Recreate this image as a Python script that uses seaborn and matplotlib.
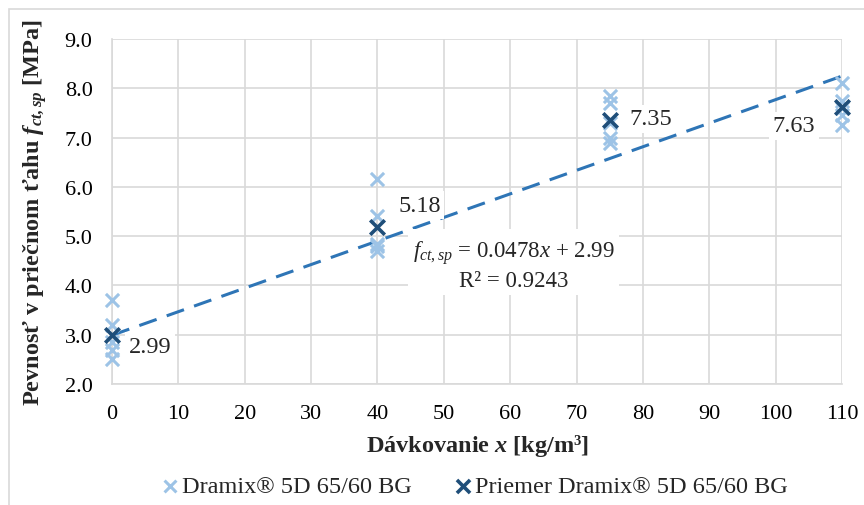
import numpy as np
import pandas as pd
import matplotlib
matplotlib.use("Agg")
import matplotlib.pyplot as plt
from matplotlib.patches import Rectangle
import seaborn as sns

# Measured splitting tensile strength for each fibre dosage
dosage = [0, 40, 75, 110]
specimens = {
    0: [3.70, 3.20, 2.85, 2.70, 2.50],
    40: [6.15, 5.40, 4.85, 4.80, 4.70],
    75: [7.85, 7.70, 7.30, 7.00, 6.90],
    110: [8.10, 7.75, 7.60, 7.45, 7.25],
}
means = [2.99, 5.18, 7.35, 7.63]
slope = 0.0478
intercept = 2.99
r2 = 0.9243

series_raw = "Dramix® 5D 65/60 BG"
series_mean = "Priemer Dramix® 5D 65/60 BG"

raw = pd.DataFrame(
    [(x, v) for x in dosage for v in specimens[x]], columns=["x", "y"]
)
avg = pd.DataFrame({"x": dosage, "y": means})

sns.set_theme(style="white")
plt.rcParams["font.family"] = ["Liberation Serif", "DejaVu Serif"]
plt.rcParams["mathtext.fontset"] = "custom"
plt.rcParams["mathtext.rm"] = "Liberation Serif"
plt.rcParams["mathtext.it"] = "Liberation Serif:italic"
plt.rcParams["mathtext.bf"] = "Liberation Serif:bold"
plt.rcParams["mathtext.bfit"] = "Liberation Serif:bold:italic"

fig = plt.figure(figsize=(8.64, 5.06), dpi=100)
ax = fig.add_axes([0.1296, 0.239, 0.845, 0.682])

light = "#9DC3E6"
dark = "#1F4E79"
trend = "#2E75B6"

sns.scatterplot(data=raw, x="x", y="y", ax=ax, marker="x", s=90,
                color=light, linewidth=2.2, label=series_raw, zorder=3,
                clip_on=False)
sns.scatterplot(data=avg, x="x", y="y", ax=ax, marker="x", s=110,
                color=dark, linewidth=2.6, label=series_mean, zorder=4,
                clip_on=False)

xt = np.array([0, 110])
sns.lineplot(x=xt, y=slope * xt + intercept, ax=ax, color=trend,
             linewidth=2.2, zorder=2, legend=False)
ax.lines[-1].set_linestyle((0, (6, 3.5)))

ax.set_xlim(0, 110)
ax.set_ylim(2.0, 9.0)
ax.set_xticks(range(0, 111, 10))
ax.set_yticks(np.arange(2.0, 9.01, 1.0))
ax.set_yticklabels([f"{v:.1f}" for v in np.arange(2.0, 9.01, 1.0)])
ax.grid(True, color="#D9D9D9", linewidth=1.2)
ax.set_axisbelow(True)
for side in ["top", "right"]:
    ax.spines[side].set_visible(False)
for side in ["left", "bottom"]:
    ax.spines[side].set_color("#D9D9D9")
    ax.spines[side].set_linewidth(1.2)
ax.tick_params(axis="both", labelsize=16, colors="black", length=0)
ax.tick_params(axis="x", pad=14)
ax.tick_params(axis="y", pad=14)

ax.set_xlabel("Dávkovanie $\\mathbfit{x}$ [kg/m³]", fontsize=17.5,
              fontweight="bold", labelpad=7)
ax.set_ylabel("Pevnosť v priečnom ťahu $\\mathbfit{f}_{\\mathbfit{ct,sp}}$ [MPa]",
              fontsize=17.5, fontweight="bold", labelpad=11)

# Data labels for the mean values
box = dict(boxstyle="square,pad=0.15", facecolor="white", edgecolor="none")
offsets = [(12, -8), (15, 16), (14, 1), (-50, -14)]
for x, m, (dx, dy) in zip(dosage, means, offsets):
    ax.annotate(f"{m:.2f}", (x, m), xytext=(dx, dy), textcoords="offset points",
                fontsize=17.5, va="center", ha="left", bbox=box, zorder=5)

# Trend-line equation
ax.text(60.5, 4.43,
        f"$f_{{ct,sp}}$ = {slope}$x$ + {intercept:.2f}\nR² = {r2}",
        fontsize=16.5, ha="center", va="center", linespacing=1.25,
        bbox=dict(boxstyle="square,pad=0.2", facecolor="white", edgecolor="none"),
        zorder=5)

leg = ax.legend(loc="upper center", bbox_to_anchor=(0.489, -0.2), ncol=2,
                frameon=False, fontsize=17.5, handletextpad=-0.3,
                columnspacing=1.3, markerscale=0.9, handlelength=1.6)

# Chart area frame
fig.patches.append(Rectangle((9 / 864, -0.05), 1.1, 1 - 10 / 506 + 0.05,
                             transform=fig.transFigure, fill=False,
                             edgecolor="#D9D9D9", linewidth=1.2))

fig.savefig("out.png", dpi=100)
